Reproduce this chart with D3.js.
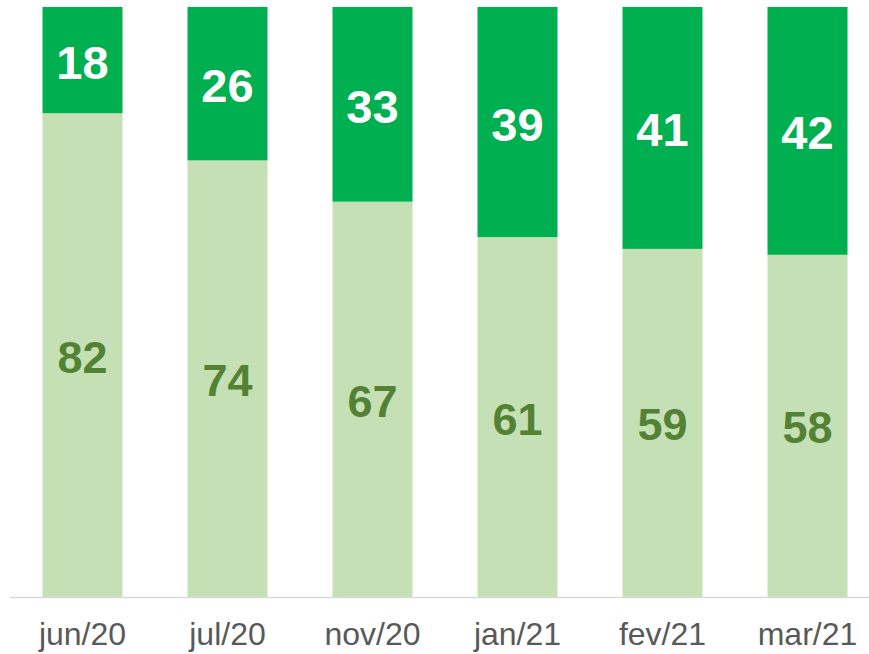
<!DOCTYPE html>
<html>
<head>
<meta charset="utf-8">
<script src="https://cdn.jsdelivr.net/npm/d3@7"></script>
<style>
  html, body { margin: 0; padding: 0; background: #fff; }
  svg { display: block; }
</style>
</head>
<body>
<svg id="chart" width="869" height="654"></svg>
<script>
// data
const months   = ["jun/20", "jul/20", "nov/20", "jan/21", "fev/21", "mar/21"];
const lowerVal = [82, 74, 67, 61, 59, 58];   // light segment (bottom)
const upperVal = [18, 26, 33, 39, 41, 42];   // dark segment (top)

const W = 869, H = 654;
const baseY = 597, topY = 7;
const font = "'Liberation Sans', Arial, sans-serif";

const svg = d3.select("#chart");

const x = d3.scaleBand()
  .domain(months)
  .range([10, 880])
  .paddingInner(65 / 145)
  .paddingOuter(65 / 290);

const y = d3.scaleLinear().domain([0, 100]).range([baseY, topY]);

const rows = months.map((m, i) => ({ m, lo: lowerVal[i], hi: upperVal[i] }));

// light (bottom) segments
svg.append("g").selectAll("rect")
  .data(rows)
  .enter().append("rect")
    .attr("x", d => x(d.m))
    .attr("width", x.bandwidth())
    .attr("y", d => y(d.lo))
    .attr("height", d => y(0) - y(d.lo))
    .attr("fill", "#C5E0B4");

// dark (top) segments
svg.append("g").selectAll("rect")
  .data(rows)
  .enter().append("rect")
    .attr("x", d => x(d.m))
    .attr("width", x.bandwidth())
    .attr("y", d => y(d.lo + d.hi))
    .attr("height", d => y(d.lo) - y(d.lo + d.hi))
    .attr("fill", "#00B050");

// value labels, centred in each segment
svg.append("g").selectAll("text")
  .data(rows)
  .enter().append("text")
    .attr("x", d => x(d.m) + x.bandwidth() / 2)
    .attr("y", d => (y(0) + y(d.lo)) / 2 + 2)
    .attr("text-anchor", "middle")
    .attr("dominant-baseline", "central")
    .attr("font-family", font)
    .attr("font-weight", "bold")
    .attr("font-size", 45)
    .attr("fill", "#548235")
    .text(d => d.lo);

svg.append("g").selectAll("text")
  .data(rows)
  .enter().append("text")
    .attr("x", d => x(d.m) + x.bandwidth() / 2)
    .attr("y", d => (y(d.lo) + y(d.lo + d.hi)) / 2 + 2)
    .attr("text-anchor", "middle")
    .attr("dominant-baseline", "central")
    .attr("font-family", font)
    .attr("font-weight", "bold")
    .attr("font-size", 47)
    .attr("fill", "#ffffff")
    .text(d => d.hi);

// category axis
const axisG = svg.append("g")
  .attr("transform", `translate(0,${baseY})`)
  .call(d3.axisBottom(x).tickSize(0).tickPadding(25).tickSizeOuter(0));
axisG.select(".domain").remove();
axisG.append("line")
  .attr("x1", 10).attr("x2", W)
  .attr("y1", 0.5).attr("y2", 0.5)
  .attr("stroke", "#D9D9D9")
  .attr("stroke-width", 1.5);
axisG.selectAll("text")
  .attr("font-family", font)
  .attr("font-size", 32)
  .attr("fill", "#595959");
</script>
</body>
</html>
